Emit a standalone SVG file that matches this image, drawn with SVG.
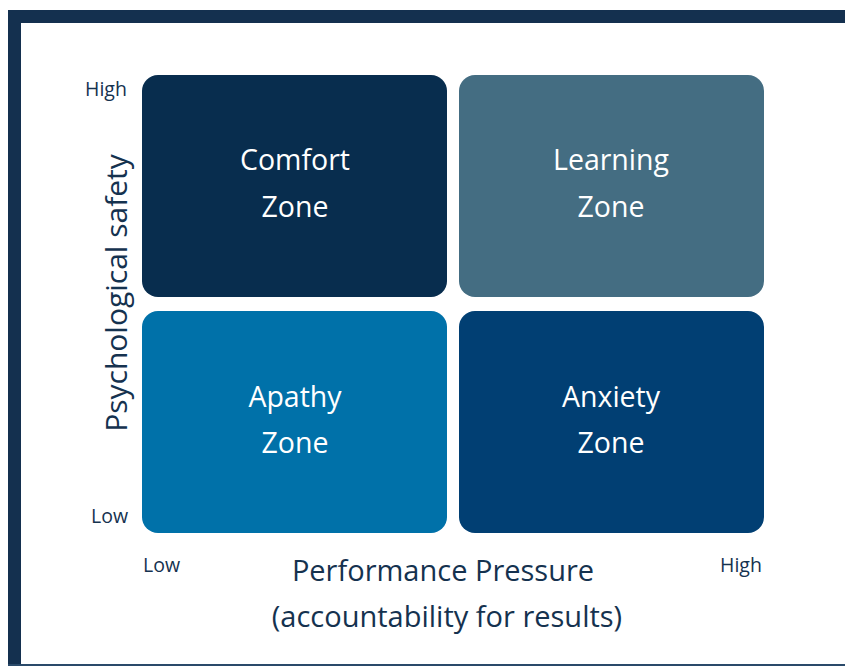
<svg xmlns="http://www.w3.org/2000/svg" width="845" height="666" viewBox="0 0 845 666">
<style>
.zone{font-family:"Open Sans","Liberation Sans",sans-serif;font-size:28.5px;fill:#ffffff;text-anchor:middle}
.axis{font-family:"Open Sans","Liberation Sans",sans-serif;font-size:29px;fill:#15324f;text-anchor:middle}
.tick{font-family:"Open Sans","Liberation Sans",sans-serif;font-size:19.5px;fill:#15324f}
</style>
<rect x="0" y="0" width="845" height="666" fill="#ffffff"/>
<g id="frame">
<rect x="8" y="10" width="837" height="13" fill="#14304f"/>
<rect x="8" y="10" width="13" height="656" fill="#14304f"/>
<rect x="8" y="664" width="837" height="2" fill="#2a4a6a"/>
</g>
<g id="comfort">
<rect x="142" y="75" width="305" height="222" rx="16" fill="#082d4e"/>
<text class="zone" x="295" y="170">Comfort</text>
<text class="zone" x="295" y="217">Zone</text>
</g>
<g id="learning">
<rect x="459" y="75" width="305" height="222" rx="16" fill="#446d82"/>
<text class="zone" x="611" y="170">Learning</text>
<text class="zone" x="611" y="217">Zone</text>
</g>
<g id="apathy">
<rect x="142" y="311" width="305" height="222" rx="16" fill="#0071a9"/>
<text class="zone" x="295" y="407">Apathy</text>
<text class="zone" x="295" y="453">Zone</text>
</g>
<g id="anxiety">
<rect x="459" y="311" width="305" height="222" rx="16" fill="#013f73"/>
<text class="zone" x="611" y="407">Anxiety</text>
<text class="zone" x="611" y="453">Zone</text>
</g>
<g id="axes">
<text class="tick" x="85" y="96">High</text>
<text class="tick" x="91" y="523">Low</text>
<text class="tick" x="143" y="572">Low</text>
<text class="tick" x="720" y="572">High</text>
<text class="axis" x="443" y="581">Performance Pressure</text>
<text class="axis" x="447" y="627">(accountability for results)</text>
<text class="axis" style="font-size:30px" transform="translate(127,293) rotate(-90)" x="0" y="0">Psychological safety</text>
</g>
<g id="connectors"></g>
</svg>
